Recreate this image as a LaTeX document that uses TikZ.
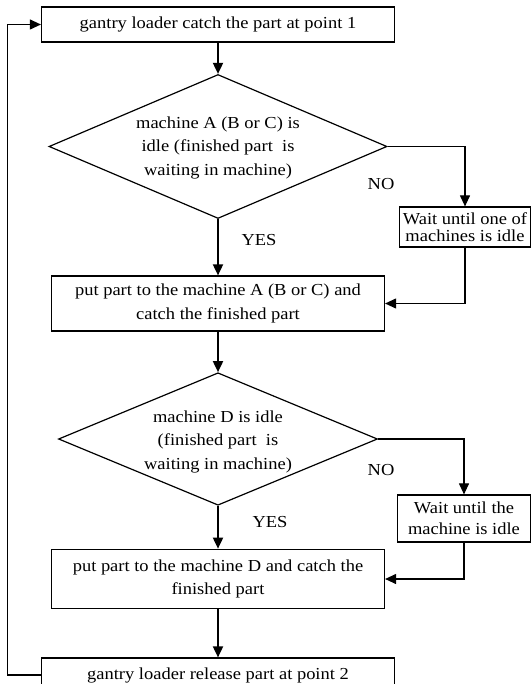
\documentclass[tikz,border=0pt]{standalone}
\usepackage{fontspec}
\setmainfont{Liberation Serif}[FakeStretch=1.1]
\usetikzlibrary{shapes.geometric,arrows.meta}
\tikzset{
  box/.style={draw, line width=1.2pt, rectangle, inner sep=0pt, align=center},
  dia/.style={draw, line width=1.2pt, diamond, inner sep=0pt},
  txt/.style={align=center, inner sep=0pt},
  lbl/.style={inner sep=0pt},
  arr/.style={line width=1.1pt, -{Triangle[length=11pt,width=10pt]}},
  mainarr/.style={arr, line width=1.8pt},
}
\begin{document}
\begin{tikzpicture}[x=1pt,y=-1pt,font=\fontsize{16.8}{23.5}\selectfont]
\useasboundingbox (0,0) rectangle (531,684);
\clip (0,0) rectangle (531,684);
\fill[white] (0,0) rectangle (531,684);

\node[box, minimum width=353pt, minimum height=35pt] (b1) at (218,24.5) {gantry loader catch the part at point 1};

\node[dia, minimum width=338pt, minimum height=144pt] (d1) at (218,146.5) {};
\node[txt] (t1) at (218,147.5) {machine A (B or C) is\\idle (finished part\ \ is\\waiting in machine)};

\node[box, minimum width=131pt, minimum height=40pt, font=\fontsize{16.8}{17}\selectfont] (w1) at (465,227) {Wait until one of\\machines is idle};

\node[box, minimum width=333pt, minimum height=55pt] (b2) at (218,303.5) {put part to the machine A (B or C) and\\catch the finished part};

\node[dia, minimum width=319pt, minimum height=132.5pt] (d2) at (218,439) {};
\node[txt] (t2) at (218,441.5) {machine D is idle\\(finished part\ \ is\\waiting in machine)};

\node[box, minimum width=133pt, minimum height=47pt, font=\fontsize{16.8}{21}\selectfont] (w2) at (464,518.5) {Wait until the\\machine is idle};

\node[box, minimum width=333pt, minimum height=59.5pt] (b3) at (218,579) {\raisebox{3pt}{\parbox{333pt}{\centering put part to the machine D and catch the\\finished part}}};

\node[box, minimum width=353pt, minimum height=34pt] (b4) at (218,675) {\raisebox{-2pt}{gantry loader release part at point 2}};

\node[lbl] (no1) at (381,184) {NO};
\node[lbl] (yes1) at (259,240) {YES};
\node[lbl] (no2) at (381,470) {NO};
\node[lbl] (yes2) at (270,522) {YES};

\draw[mainarr] (b1.south) -- (d1.north);
\draw[mainarr] (d1.south) -- (b2.north);
\draw[arr] (d1.east) -| (w1.north);
\draw[arr] (w1.south) |- (b2.east);
\draw[mainarr] (b2.south) -- (d2.north);
\draw[mainarr] (d2.south) -- (b3.north);
\draw[arr] (d2.east) -| (w2.north);
\draw[arr] (w2.south) |- (b3.east);
\draw[mainarr] (b3.south) -- (b4.north);
\coordinate (lp) at (7.5,675);
\draw[arr] (b4.west) -- (lp) |- (b1.west);
\end{tikzpicture}
\end{document}
